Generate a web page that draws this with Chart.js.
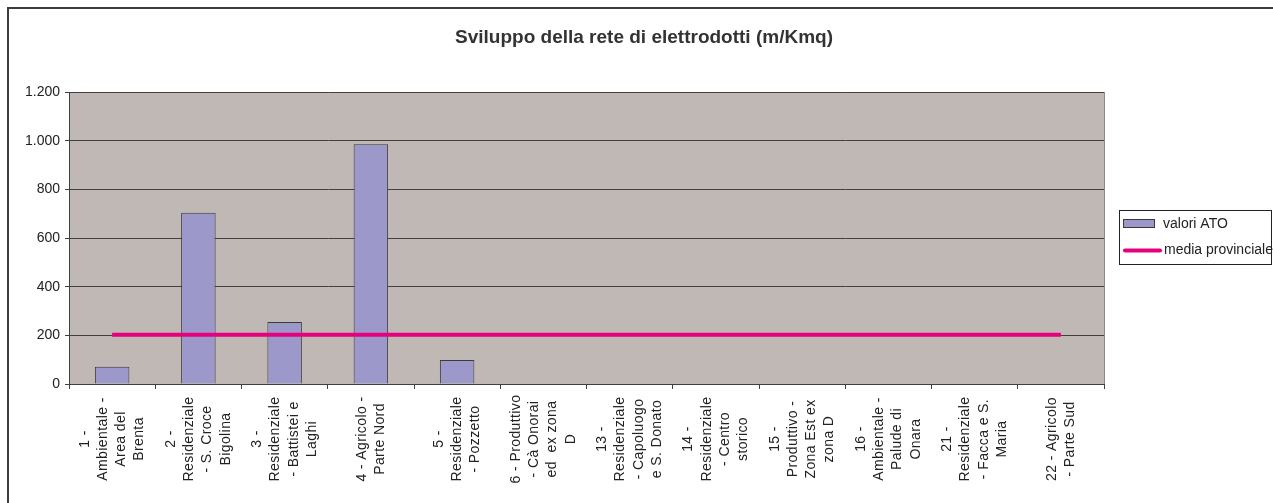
<!DOCTYPE html>
<html>
<head>
<meta charset="utf-8">
<script src="https://cdn.jsdelivr.net/npm/chart.js@4/dist/chart.umd.min.js"></script>
<style>
  html, body { margin: 0; padding: 0; background: #fff; overflow: hidden; }
  #frame { position: absolute; left: 7px; top: 7px; width: 1400px; height: 700px; border: 2px solid #3c3c3c; }
  #chart { position: absolute; left: 0; top: 0; }
</style>
</head>
<body>
<div id="frame"></div>
<canvas id="chart" width="1273" height="503"></canvas>
<script>
// ATO labels, split into the lines shown under each bar
const atoLabels = [
  ['1 -', 'Ambientale -', 'Area del', 'Brenta'],
  ['2 -', 'Residenziale', '- S. Croce', 'Bigolina'],
  ['3 -', 'Residenziale', '- Battistei e', 'Laghi'],
  ['4 - Agricolo -', 'Parte Nord'],
  ['5 -', 'Residenziale', '- Pozzetto'],
  ['6 - Produttivo', '- Cà Onorai', 'ed  ex zona', 'D'],
  ['13 -', 'Residenziale', '- Capoluogo', 'e S. Donato'],
  ['14 -', 'Residenziale', '- Centro', 'storico'],
  ['15 -', 'Produttivo -', 'Zona Est ex', 'zona D'],
  ['16 -', 'Ambientale -', 'Palude di', 'Onara'],
  ['21 -', 'Residenziale', '- Facca e S.', 'Maria'],
  ['22 - Agricolo', '- Parte Sud']
];

// m/Kmq for each ATO (no value for the last seven)
const valoriAto = [71, 704, 255, 985, 99, null, null, null, null, null, null, null];

// provincial average, same for every ATO
const mediaProvinciale = 202;

const yTicks = [0, 200, 400, 600, 800, 1000, 1200];

const FONT = 'Liberation Sans, Arial, sans-serif';
const TEXT = '#222';

const fmt = v => String(v).replace(/\B(?=(\d{3})+(?!\d))/g, '.');

// plot area background + light frame
const plotBackground = {
  id: 'plotBackground',
  beforeDraw(chart) {
    const { ctx, chartArea: a } = chart;
    ctx.save();
    ctx.fillStyle = '#c0b8b5';
    ctx.fillRect(a.left, a.top, a.right - a.left, a.bottom - a.top);
    ctx.strokeStyle = '#8a8a8a';
    ctx.lineWidth = 1;
    ctx.strokeRect(a.left + 0.5, a.top + 0.5, a.right - a.left, a.bottom - a.top);
    ctx.restore();
  }
};

// vertical multi-line category labels, centered on each category
const verticalLabels = {
  id: 'verticalLabels',
  afterDraw(chart) {
    const { ctx } = chart;
    const x = chart.scales.x;
    const lineH = 18.3;
    ctx.save();
    ctx.font = '14px ' + FONT;
    ctx.letterSpacing = '0.4px';
    ctx.fillStyle = TEXT;
    ctx.textAlign = 'center';
    ctx.textBaseline = 'middle';
    atoLabels.forEach((lines, i) => {
      const cx = x.getPixelForValue(i);
      ctx.save();
      ctx.translate(cx, 439);
      ctx.rotate(-Math.PI / 2);
      lines.forEach((t, j) => {
        ctx.fillText(t, 0, (j - (lines.length - 1) / 2) * lineH);
      });
      ctx.restore();
    });
    ctx.restore();
  }
};

// boxed legend on the right
const boxLegend = {
  id: 'boxLegend',
  afterDraw(chart) {
    const { ctx } = chart;
    const bar = chart.data.datasets.find(d => d.type === 'bar');
    const line = chart.data.datasets.find(d => d.type === 'line');
    ctx.save();
    ctx.fillStyle = '#fff';
    ctx.fillRect(1119, 210, 153, 55);
    ctx.strokeStyle = '#222';
    ctx.lineWidth = 1;
    ctx.strokeRect(1119.5, 210.5, 152, 54);

    ctx.fillStyle = bar.backgroundColor;
    ctx.fillRect(1124, 220, 30, 7);
    ctx.strokeStyle = bar.borderColor;
    ctx.strokeRect(1123.5, 219.5, 31, 8);

    ctx.strokeStyle = line.borderColor;
    ctx.lineWidth = 4;
    ctx.lineCap = 'round';
    ctx.beginPath();
    ctx.moveTo(1125, 250.5);
    ctx.lineTo(1160, 250.5);
    ctx.stroke();

    ctx.font = '14px ' + FONT;
    ctx.fillStyle = TEXT;
    ctx.textBaseline = 'middle';
    ctx.fillText(bar.label, 1163, 224);
    ctx.fillText(line.label, 1164, 250);
    ctx.restore();
  }
};

new Chart(document.getElementById('chart'), {
  data: {
    labels: atoLabels,
    datasets: [
      {
        type: 'line',
        label: 'media provinciale',
        data: atoLabels.map(() => mediaProvinciale),
        borderColor: '#e5007d',
        borderWidth: 4,
        pointRadius: 0,
        tension: 0,
        order: 0
      },
      {
        type: 'bar',
        label: 'valori ATO',
        data: valoriAto,
        backgroundColor: '#9d98ca',
        borderColor: '#3a3a3a',
        borderWidth: 1,
        borderSkipped: 'bottom',
        barPercentage: 0.4,
        categoryPercentage: 1,
        order: 1
      }
    ]
  },
  options: {
    responsive: false,
    animation: false,
    layout: { padding: { left: 15, right: 0, top: 0, bottom: 0 } },
    plugins: {
      legend: { display: false },
      tooltip: { enabled: false },
      title: {
        display: true,
        text: 'Sviluppo della rete di elettrodotti (m/Kmq)',
        color: '#333',
        font: { family: FONT, size: 19, weight: 'bold' },
        padding: { top: 26, bottom: 43.2 }
      }
    },
    scales: {
      x: {
        offset: true,
        grid: { offset: true, drawOnChartArea: false, drawTicks: true, tickLength: 5, color: '#404040' },
        border: { display: true, color: '#404040', width: 1 },
        ticks: { display: false },
        afterFit(axis) { axis.height = 119; }
      },
      y: {
        min: 0,
        max: 1200,
        afterBuildTicks(axis) { axis.ticks = yTicks.map(v => ({ value: v })); },
        grid: { color: '#404040', tickLength: 4 },
        border: { display: true, color: '#404040', width: 1 },
        ticks: {
          padding: 5,
          color: TEXT,
          font: { family: FONT, size: 14 },
          callback: v => fmt(v)
        },
        afterFit(axis) { axis.width = 54; }
      },
      yRight: {
        position: 'right',
        display: true,
        grid: { display: false },
        border: { display: false },
        ticks: { display: false },
        afterFit(axis) { axis.width = 169; }
      }
    }
  },
  plugins: [plotBackground, verticalLabels, boxLegend]
});
</script>
</body>
</html>
